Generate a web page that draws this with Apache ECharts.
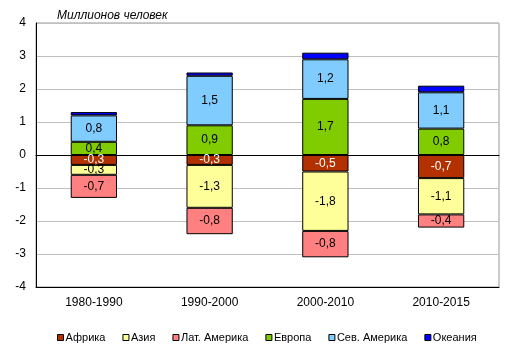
<!DOCTYPE html>
<html>
<head>
<meta charset="utf-8">
<script src="https://cdn.jsdelivr.net/npm/echarts@6/dist/echarts.min.js"></script>
<style>
  html, body { margin: 0; padding: 0; background: #fff; }
  #chart { width: 514px; height: 354px; }
</style>
</head>
<body>
<div id="chart"></div>
<script>
// данные, млн человек
var periods = ['1980-1990', '1990-2000', '2000-2010', '2010-2015']
var africa = [-0.3, -0.3, -0.5, -0.7]
var asia = [-0.3, -1.3, -1.8, -1.1]
var latAmerica = [-0.7, -0.8, -0.8, -0.4]
var europe = [0.4, 0.9, 1.7, 0.8]
var northAmerica = [0.8, 1.5, 1.2, 1.1]
var oceania = [0.1, 0.1, 0.2, 0.2]
var yTicks = [-4, -3, -2, -1, 0, 1, 2, 3, 4]

var font = 'Liberation Sans, Arial, sans-serif'

function bar(name, data, color, labelColor) {
    return {
        name: name,
        type: 'bar',
        stack: 'all',
        barWidth: '40%',
        data: data,
        itemStyle: { color: color, borderColor: '#000', borderWidth: 1 },
        label: {
            show: labelColor != null,
            position: 'inside',
            color: labelColor || '#000',
            fontFamily: font,
            fontSize: 12,
            formatter: function (p) { return String(p.value).replace('.', ',') }
        },
        emphasis: { disabled: true }
    }
}

var myChart = echarts.init(document.getElementById('chart'))
var option = {
    animation: false,
    title: {
        text: 'Миллионов человек',
        left: 52,
        top: 5,
        textStyle: { fontFamily: font, fontSize: 12, fontStyle: 'italic', fontWeight: 'normal', color: '#000' }
    },
    grid: {
        left: 36, right: 15, top: 23, bottom: 67,
        show: true, borderColor: '#999', borderWidth: 1
    },
    legend: {
        left: 52,
        bottom: 6,
        icon: 'rect',
        itemWidth: 6,
        itemHeight: 6,
        itemGap: 17,
        textStyle: { fontFamily: font, fontSize: 11, color: '#000', padding: [0, 0, 0, -3] },
        itemStyle: { borderColor: '#000', borderWidth: 1 },
        data: ['Африка', 'Азия', 'Лат. Америка', 'Европа', 'Сев. Америка', 'Океания']
    },
    xAxis: [{
        type: 'category',
        data: periods,
        position: 'bottom',
        axisLine: { onZero: false, lineStyle: { color: '#000' } },
        axisTick: { show: false },
        axisLabel: { fontFamily: font, fontSize: 12, color: '#000', margin: 10 }
    }, {
        type: 'category',
        data: periods,
        position: 'top',
        axisLine: { onZero: true, onZeroAxisIndex: 0, lineStyle: { color: '#000' } },
        axisTick: { show: false },
        axisLabel: { show: false }
    }],
    yAxis: {
        type: 'value',
        min: yTicks[0],
        max: yTicks[yTicks.length - 1],
        interval: 1,
        axisLine: { show: true, lineStyle: { color: '#000' } },
        axisTick: { show: false },
        splitLine: { lineStyle: { color: '#c0c0c0' } },
        axisLabel: { fontFamily: font, fontSize: 12, color: '#000', margin: 10 }
    },
    series: [
        bar('Африка', africa, '#B33000', '#fff'),
        bar('Азия', asia, '#FFFF99', '#000'),
        bar('Лат. Америка', latAmerica, '#FF8080', '#000'),
        bar('Европа', europe, '#80CC00', '#000'),
        bar('Сев. Америка', northAmerica, '#80CCFF', '#000'),
        bar('Океания', oceania, '#0000FF', null)
    ]
}
myChart.setOption(option)
</script>
</body>
</html>
